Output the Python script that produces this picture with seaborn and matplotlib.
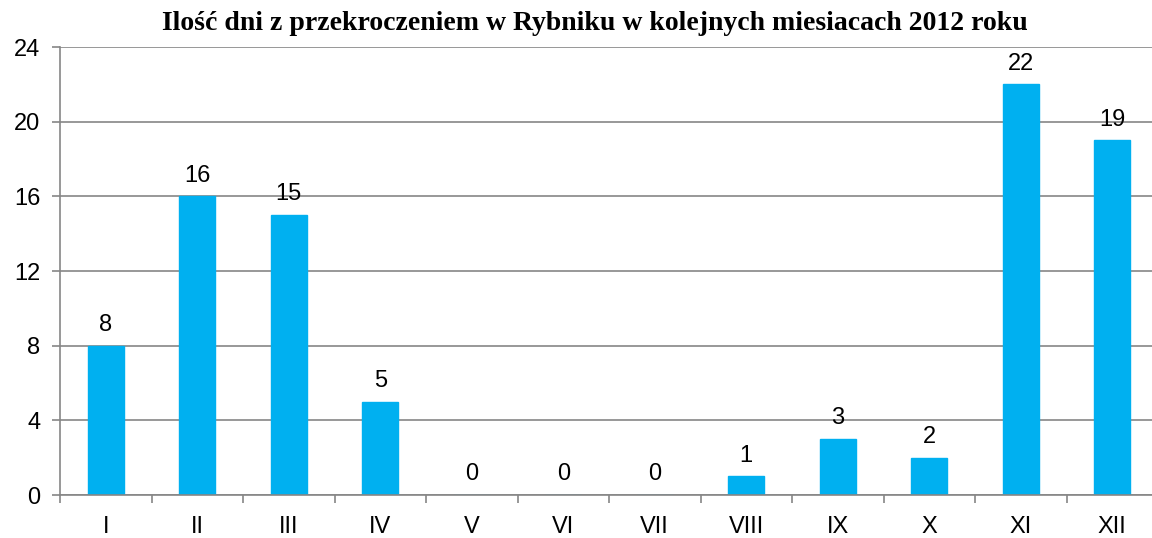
import matplotlib
matplotlib.use("Agg")
import matplotlib.pyplot as plt
import seaborn as sns
import numpy as np

months = ["I", "II", "III", "IV", "V", "VI", "VII", "VIII", "IX", "X", "XI", "XII"]
days = [8, 16, 15, 5, 0, 0, 0, 1, 3, 2, 22, 19]
y_ticks = [0, 4, 8, 12, 16, 20, 24]

sns.set_style("white")
plt.rcParams['font.family'] = ['Liberation Sans', 'DejaVu Sans']
plt.rcParams['text.color'] = 'black'

fig = plt.figure(figsize=(11.52, 5.38), dpi=100)
ax = fig.add_axes([60 / 1152, 43 / 538, 1098 / 1152, 448 / 538])

sns.barplot(x=months, y=days, color="#00B0F0", saturation=1, width=0.39,
            edgecolor="#00B0F0", ax=ax)
ax.bar_label(ax.containers[0], padding=7, fontsize=17, color="black")

grid_c = "#868686"
ax.set_ylim(0, 24)
ax.set_xlim(-0.5, 11.5)
ax.set_yticks(y_ticks)
for y in y_ticks:
    ax.axhline(y, color=grid_c, lw=1.2, zorder=0)

ax.set_xticks(np.arange(len(months)))
ax.set_xticklabels(months)
ax.set_xticks(np.arange(-0.5, 12, 1), minor=True)
ax.tick_params(axis="x", which="major", length=0, pad=15, labelsize=17, labelcolor="black")
ax.tick_params(axis="x", which="minor", length=6, width=1.2, color=grid_c, direction="out")
ax.tick_params(axis="y", length=6, width=1.2, color=grid_c, direction="out",
               labelsize=17, labelcolor="black", pad=8)
ax.xaxis.set_ticks_position("bottom")
ax.yaxis.set_ticks_position("left")

for side in ["top", "right"]:
    ax.spines[side].set_visible(False)
for side in ["left", "bottom"]:
    ax.spines[side].set_color(grid_c)
    ax.spines[side].set_linewidth(1.2)
ax.set_xlabel("")
ax.set_ylabel("")

fig.text(595 / 1152, 1 - 23 / 538,
         "Ilość dni z przekroczeniem w Rybniku w kolejnych miesiacach 2012 roku",
         ha="center", va="center", fontsize=20, fontweight="bold",
         family=["Liberation Serif", "DejaVu Serif"])

fig.savefig("out.png", dpi=100)
